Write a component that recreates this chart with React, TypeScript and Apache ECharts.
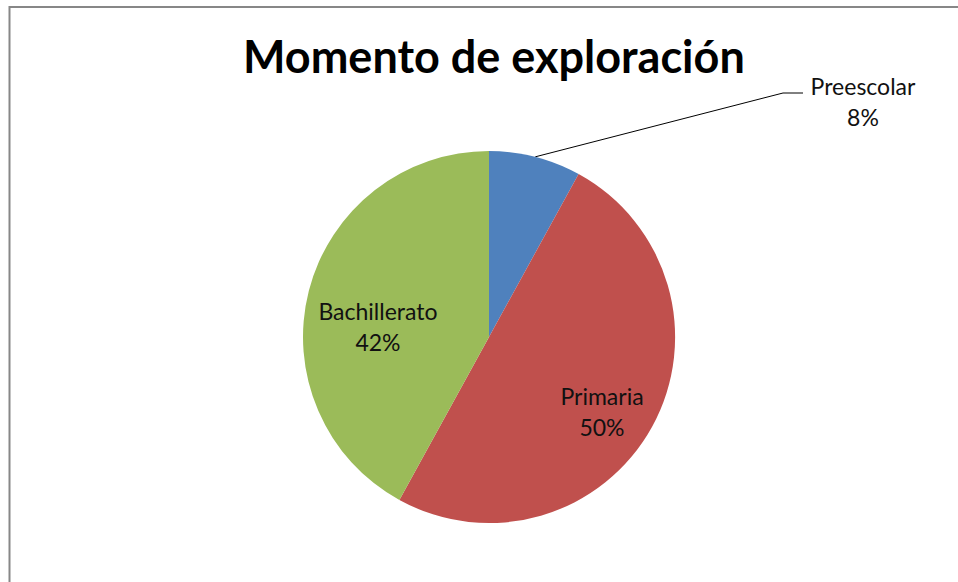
import React, { useEffect, useRef } from "react";
import * as echarts from "echarts";

const TITLE = "Momento de exploración";
const categories = ["Preescolar", "Primaria", "Bachillerato"];
const values = [8, 50, 42];
const colors = ["#4F81BD", "#C0504D", "#9BBB59"];

// label anchor positions (layout, not data)
const labelPos: [number, number][] = [
  [863, 101],
  [602, 411],
  [378, 326],
];
const leaderElbow: [number, number][] = [
  [783, 93],
  [803, 93],
];

const FONT = "Lato, 'Noto Sans', sans-serif";

export default function App() {
  const ref = useRef<HTMLDivElement>(null);
  useEffect(() => {
    if (!ref.current) return;
    const chart = echarts.init(ref.current, undefined, { renderer: "svg" });
    chart.setOption({
      animation: false,
      backgroundColor: "#ffffff",
      title: {
        text: TITLE,
        left: 238,
        top: 28,
        textStyle: {
          fontFamily: FONT,
          fontWeight: "bold",
          fontSize: 45,
          color: "#000000",
        },
      },
      graphic: [
        {
          type: "line",
          shape: { x1: 9.5, y1: 6, x2: 9.5, y2: 582 },
          style: { stroke: "#878787", lineWidth: 2 },
        },
        {
          type: "line",
          shape: { x1: 9, y1: 7, x2: 958, y2: 7 },
          style: { stroke: "#878787", lineWidth: 2 },
        },
      ],
      series: [
        {
          type: "pie",
          center: [489, 337],
          radius: [0, 186],
          startAngle: 90,
          clockwise: true,
          avoidLabelOverlap: false,
          itemStyle: { borderWidth: 0 },
          label: {
            show: true,
            position: "inside",
            formatter: "{b}\n{d}%",
            fontFamily: FONT,
            fontSize: 23,
            lineHeight: 31,
            color: "#111111",
            align: "center",
          },
          labelLine: { show: false },
          labelLayout: (params: any) => {
            const i = params.dataIndex;
            const [x, y] = labelPos[i];
            const res: any = { x, y, align: "center", verticalAlign: "middle" };
            if (i === 0 && params.labelLinePoints) {
              res.labelLinePoints = [
                params.labelLinePoints[0],
                leaderElbow[0],
                leaderElbow[1],
              ];
            }
            return res;
          },
          data: categories.map((name, i) => {
            const item: any = {
              name,
              value: values[i],
              itemStyle: { color: colors[i] },
            };
            if (i === 0) {
              item.label = { position: "outside" };
              item.labelLine = {
                show: true,
                length: 20,
                length2: 20,
                lineStyle: { color: "#000000", width: 1 },
              };
            }
            return item;
          }),
        },
      ],
    });
    return () => chart.dispose();
  }, []);
  return (
    <div
      ref={ref}
      style={{ position: "absolute", left: 0, top: 0, width: 958, height: 582 }}
    />
  );
}
